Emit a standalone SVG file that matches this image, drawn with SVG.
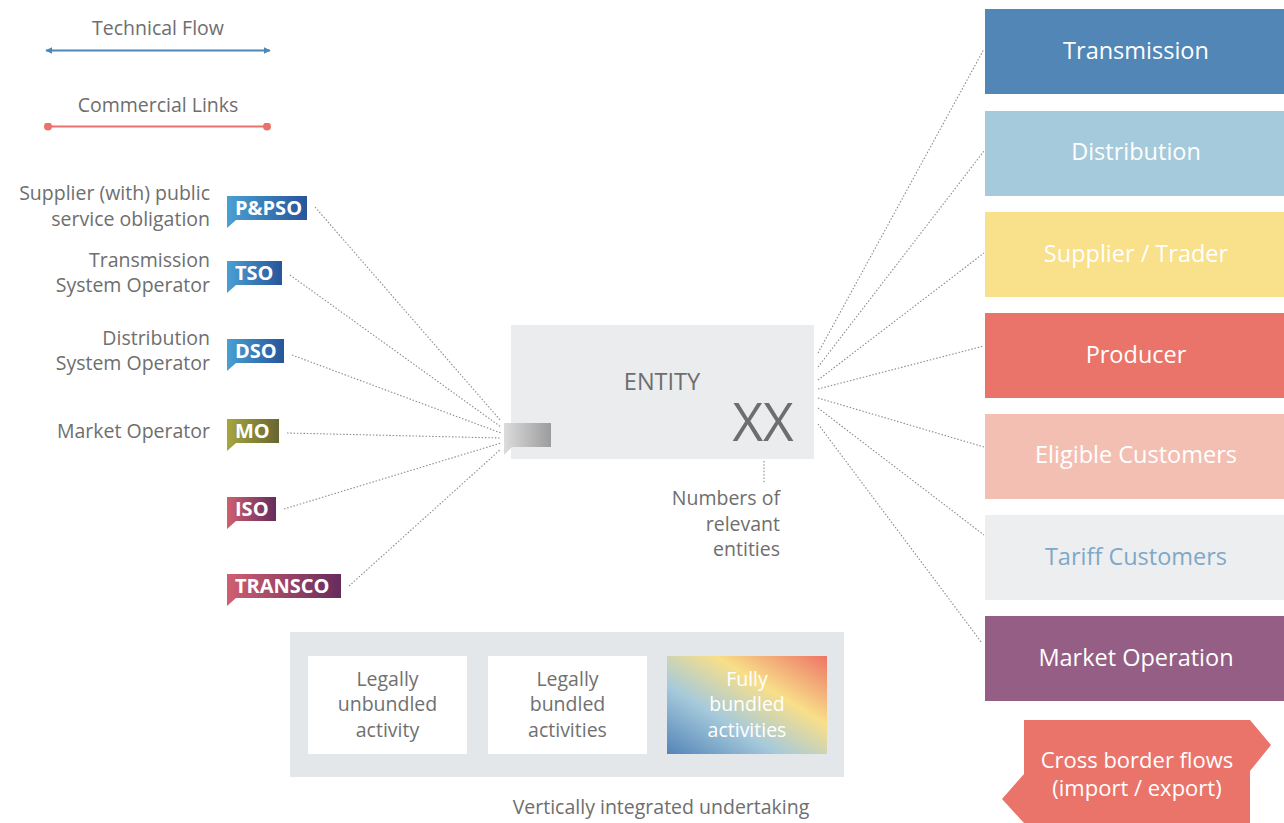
<svg xmlns="http://www.w3.org/2000/svg" width="1284" height="823" viewBox="0 0 1284 823">
<defs>
<style>
text{font-family:"Open Sans","Liberation Sans",sans-serif;}
.lbl{font-size:19.5px;fill:#6e6e6e;}
.tag{font-size:20px;font-weight:bold;fill:#ffffff;}
.box{font-size:23.5px;fill:#ffffff;text-anchor:middle;}
.dot{fill:none;stroke:#8c8c8c;stroke-width:1.1;stroke-dasharray:1.5 1.8;}
.inner{font-size:19.5px;fill:#707070;text-anchor:middle;}
</style>
<linearGradient id="gBlue" x1="0" y1="0" x2="1" y2="0"><stop offset="0" stop-color="#4aa0d2"/><stop offset="1" stop-color="#27559a"/></linearGradient>
<linearGradient id="gOlive" x1="0" y1="0" x2="1" y2="0"><stop offset="0" stop-color="#a7a63e"/><stop offset="1" stop-color="#676632"/></linearGradient>
<linearGradient id="gPink" x1="0" y1="0" x2="1" y2="0"><stop offset="0" stop-color="#cf5f70"/><stop offset="1" stop-color="#662c5c"/></linearGradient>
<linearGradient id="gGray" x1="0" y1="0" x2="1" y2="0"><stop offset="0" stop-color="#dcdcdc"/><stop offset="1" stop-color="#9c9c9c"/></linearGradient>
<linearGradient id="gFull" x1="0" y1="1" x2="1" y2="0"><stop offset="0" stop-color="#5384b8"/><stop offset="0.35" stop-color="#a6cadb"/><stop offset="0.65" stop-color="#f8df89"/><stop offset="1" stop-color="#ed7466"/></linearGradient>
<marker id="arrB" viewBox="0 0 10 10" refX="9" refY="5" markerWidth="7" markerHeight="7" orient="auto-start-reverse" markerUnits="userSpaceOnUse"><path d="M0,0 L10,5 L0,10 Z" fill="#4f86b8"/></marker>
<marker id="dotR" viewBox="0 0 10 10" refX="5" refY="5" markerWidth="8" markerHeight="8" markerUnits="userSpaceOnUse"><circle cx="5" cy="5" r="5" fill="#e9736a"/></marker>
</defs>
<rect width="1284" height="823" fill="#ffffff"/>

<g id="legend">
<text x="158" y="35" class="lbl" text-anchor="middle">Technical Flow</text>
<line x1="46" y1="50.5" x2="270" y2="50.5" stroke="#4f86b8" stroke-width="2" marker-start="url(#arrB)" marker-end="url(#arrB)"/>
<text x="158" y="112" class="lbl" text-anchor="middle">Commercial Links</text>
<line x1="48" y1="126.5" x2="267" y2="126.5" stroke="#e9736a" stroke-width="2" marker-start="url(#dotR)" marker-end="url(#dotR)"/>
</g>

<g id="connectors">
<line class="dot" x1="315" y1="207" x2="501" y2="421"/>
<line class="dot" x1="290" y1="275" x2="501" y2="427"/>
<line class="dot" x1="292" y1="355" x2="501" y2="433"/>
<line class="dot" x1="287" y1="433" x2="501" y2="438"/>
<line class="dot" x1="284" y1="509" x2="501" y2="443"/>
<line class="dot" x1="349" y1="586" x2="501" y2="449"/>
<line class="dot" x1="818" y1="353" x2="984" y2="49"/>
<line class="dot" x1="818" y1="367" x2="984" y2="151"/>
<line class="dot" x1="818" y1="380" x2="984" y2="253"/>
<line class="dot" x1="818" y1="389" x2="984" y2="346"/>
<line class="dot" x1="818" y1="398" x2="984" y2="447"/>
<line class="dot" x1="818" y1="408" x2="984" y2="535"/>
<line class="dot" x1="818" y1="424" x2="982" y2="643"/>
<line class="dot" x1="764" y1="451" x2="764" y2="484"/>
</g>

<g id="pspo">
<text x="210" y="200" class="lbl" text-anchor="end">Supplier (with) public</text>
<text x="210" y="226" class="lbl" text-anchor="end">service obligation</text>
<path d="M227,196 H307 V220 H236 L227,228 Z" fill="url(#gBlue)"/>
<text x="235" y="215" class="tag">P&amp;PSO</text>
</g>
<g id="tso">
<text x="210" y="267" class="lbl" text-anchor="end">Transmission</text>
<text x="210" y="292" class="lbl" text-anchor="end">System Operator</text>
<path d="M227,261 H282 V285 H236 L227,293 Z" fill="url(#gBlue)"/>
<text x="235" y="280" class="tag">TSO</text>
</g>
<g id="dso">
<text x="210" y="345" class="lbl" text-anchor="end">Distribution</text>
<text x="210" y="370" class="lbl" text-anchor="end">System Operator</text>
<path d="M227,339 H284 V363 H236 L227,371 Z" fill="url(#gBlue)"/>
<text x="235" y="358" class="tag">DSO</text>
</g>
<g id="mo">
<text x="210" y="438" class="lbl" text-anchor="end">Market Operator</text>
<path d="M227,419 H279 V443 H236 L227,451 Z" fill="url(#gOlive)"/>
<text x="235" y="438" class="tag">MO</text>
</g>
<g id="iso">
<path d="M227,497 H276 V521 H236 L227,529 Z" fill="url(#gPink)"/>
<text x="235" y="516" class="tag">ISO</text>
</g>
<g id="transco">
<path d="M227,574 H341 V598 H236 L227,606 Z" fill="url(#gPink)"/>
<text x="235" y="593" class="tag">TRANSCO</text>
</g>

<g id="entity">
<rect x="511" y="325" width="303" height="134" fill="#ebeced"/>
<text x="662" y="390" font-size="23.5" fill="#6e6e6e" text-anchor="middle">ENTITY</text>
<text x="763" y="441" font-size="53" fill="#6e6e6e" text-anchor="middle">XX</text>
<path d="M504,423 H551 V447 H512 L504,455 Z" fill="url(#gGray)"/>
</g>
<g id="numbers">
<text x="780" y="505" class="lbl" text-anchor="end">Numbers of</text>
<text x="780" y="531" class="lbl" text-anchor="end">relevant</text>
<text x="780" y="556" class="lbl" text-anchor="end">entities</text>
</g>

<g id="transmission"><rect x="985" y="9" width="299" height="85" fill="#5286b6"/><text x="1136" y="59" class="box">Transmission</text></g>
<g id="distribution"><rect x="985" y="111" width="299" height="85" fill="#a5cadb"/><text x="1136" y="160" class="box">Distribution</text></g>
<g id="supplier"><rect x="985" y="212" width="299" height="85" fill="#f9e08a"/><text x="1136" y="262" class="box">Supplier / Trader</text></g>
<g id="producer"><rect x="985" y="313" width="299" height="85" fill="#ea746a"/><text x="1136" y="363" class="box">Producer</text></g>
<g id="eligible"><rect x="985" y="414" width="299" height="85" fill="#f4bfb3"/><text x="1136" y="463" class="box">Eligible Customers</text></g>
<g id="tariff"><rect x="985" y="515" width="299" height="85" fill="#edeeef"/><text x="1136" y="565" class="box" style="fill:#7ea8c9">Tariff Customers</text></g>
<g id="market"><rect x="985" y="616" width="299" height="85" fill="#955e84"/><text x="1136" y="666" class="box">Market Operation</text></g>

<g id="crossborder">
<path d="M1024,720 H1250 L1271,745 L1250,771 V823 H1024 L1002,799 L1024,774 Z" fill="#ea746a"/>
<text x="1137" y="768" font-size="22" fill="#ffffff" text-anchor="middle">Cross border flows</text>
<text x="1137" y="796" font-size="22" fill="#ffffff" text-anchor="middle">(import / export)</text>
</g>

<g id="vertical">
<rect x="290" y="632" width="554" height="145" fill="#e3e7ea"/>
<rect x="308" y="656" width="159" height="98" fill="#ffffff"/>
<text x="387.5" y="686" class="inner">Legally</text>
<text x="387.5" y="711" class="inner">unbundled</text>
<text x="387.5" y="737" class="inner">activity</text>
<rect x="488" y="656" width="159" height="98" fill="#ffffff"/>
<text x="567.5" y="686" class="inner">Legally</text>
<text x="567.5" y="711" class="inner">bundled</text>
<text x="567.5" y="737" class="inner">activities</text>
<rect x="667" y="656" width="160" height="98" fill="url(#gFull)"/>
<text x="747" y="686" class="inner" style="fill:#ffffff">Fully</text>
<text x="747" y="711" class="inner" style="fill:#ffffff">bundled</text>
<text x="747" y="737" class="inner" style="fill:#ffffff">activities</text>
<text x="661" y="814" class="lbl" text-anchor="middle">Vertically integrated undertaking</text>
</g>
</svg>
